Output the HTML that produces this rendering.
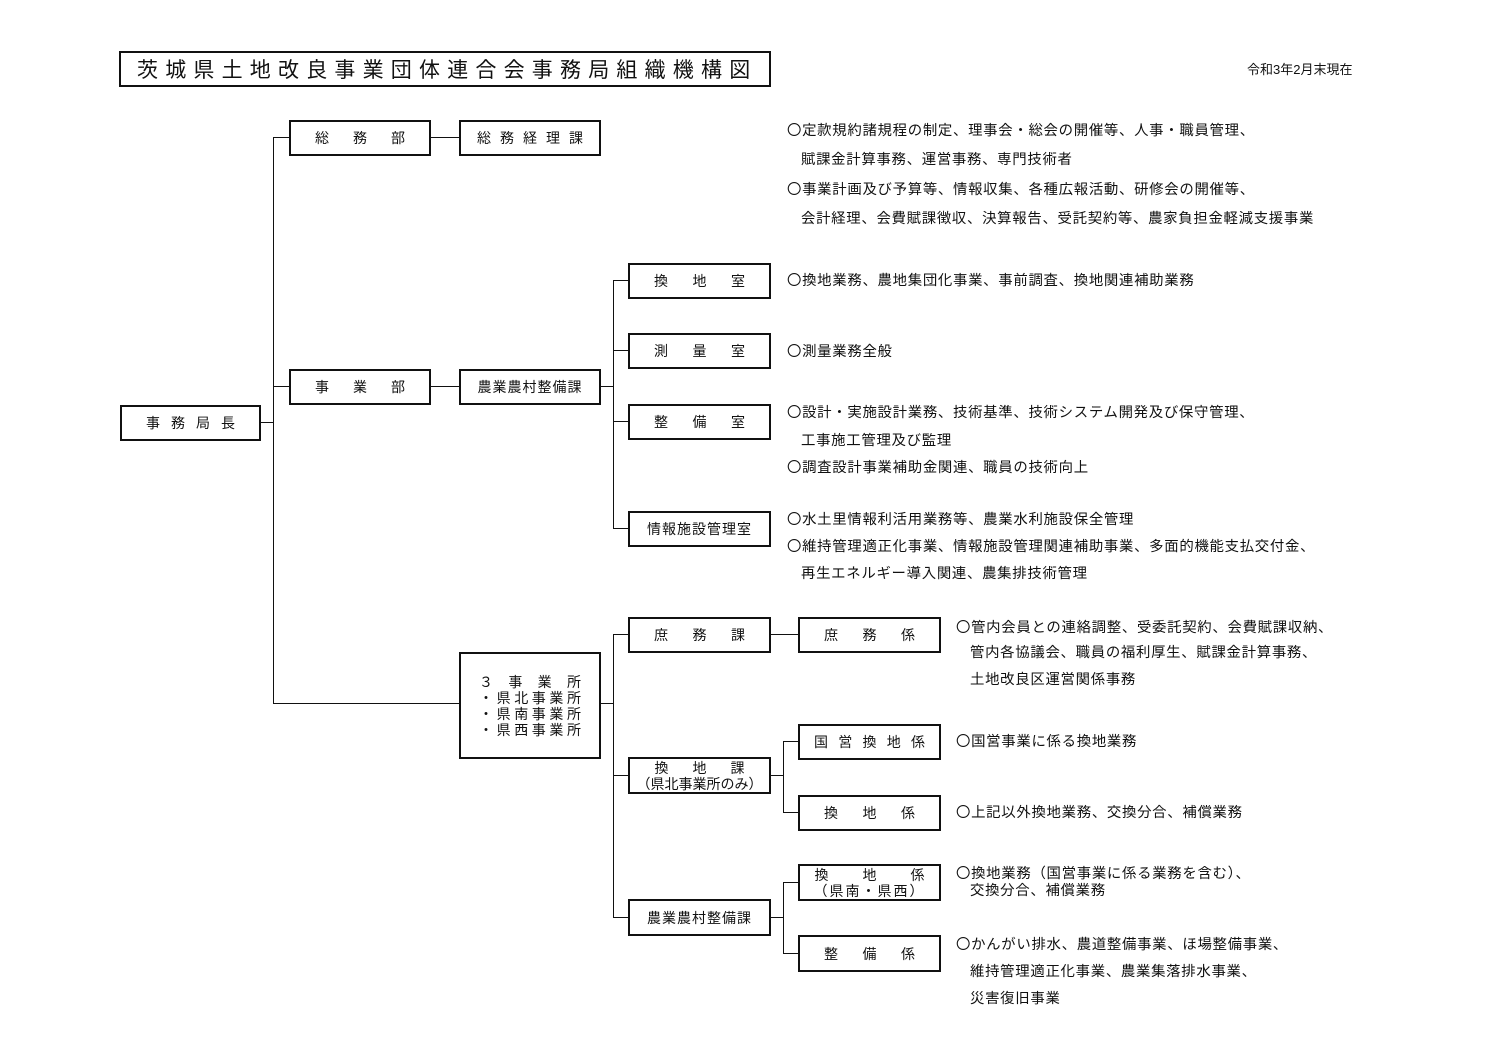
<!DOCTYPE html>
<html><head><meta charset="utf-8"><style>
body{margin:0;background:#fff;width:1497px;height:1058px;position:relative;overflow:hidden;font-family:"Liberation Sans","Noto Sans CJK JP",sans-serif;color:#111}
.b{position:absolute;border:2px solid #111;box-sizing:border-box;background:#fff;font-size:14px;display:flex;align-items:center;justify-content:space-between;padding:0 24px;white-space:nowrap}
.c{justify-content:center}
.h{position:absolute;height:0;border-top:1.5px solid #111}
.v{position:absolute;width:0;border-left:1.5px solid #111}
.t{position:absolute;font-size:14.4px;white-space:nowrap;line-height:16px;font-family:"Noto Sans CJK JP",sans-serif;letter-spacing:0.7px}
.col{flex-direction:column;justify-content:center;line-height:16px}
</style></head><body>
<div class="b c" style="left:119px;top:51px;width:652px;height:36px;font-size:21px;letter-spacing:7.2px;justify-content:flex-start;padding-left:16px">茨城県土地改良事業団体連合会事務局組織機構図</div>
<div class="t" style="left:1247px;top:62px;font-size:13px;letter-spacing:0;font-family:'Liberation Sans','Noto Sans CJK JP',sans-serif">令和3年2月末現在</div>

<!-- lines -->
<div class="h" style="left:260px;top:422px;width:14px"></div>
<div class="v" style="left:273px;top:137px;height:567px"></div>
<div class="h" style="left:273px;top:137px;width:16px"></div>
<div class="h" style="left:273px;top:386px;width:16px"></div>
<div class="h" style="left:273px;top:703px;width:186px"></div>
<div class="h" style="left:430px;top:137px;width:29px"></div>
<div class="h" style="left:430px;top:386px;width:29px"></div>
<div class="h" style="left:600px;top:386px;width:14px"></div>
<div class="v" style="left:613px;top:280px;height:248px"></div>
<div class="h" style="left:613px;top:280px;width:15px"></div>
<div class="h" style="left:613px;top:350px;width:15px"></div>
<div class="h" style="left:613px;top:421px;width:15px"></div>
<div class="h" style="left:613px;top:528px;width:15px"></div>
<div class="h" style="left:600px;top:703px;width:14px"></div>
<div class="v" style="left:613px;top:634px;height:283px"></div>
<div class="h" style="left:613px;top:634px;width:15px"></div>
<div class="h" style="left:613px;top:775px;width:15px"></div>
<div class="h" style="left:613px;top:917px;width:15px"></div>
<div class="h" style="left:770px;top:634px;width:28px"></div>
<div class="h" style="left:770px;top:775px;width:14px"></div>
<div class="v" style="left:783px;top:741px;height:71px"></div>
<div class="h" style="left:783px;top:741px;width:15px"></div>
<div class="h" style="left:783px;top:812px;width:15px"></div>
<div class="h" style="left:770px;top:917px;width:14px"></div>
<div class="v" style="left:783px;top:882px;height:71px"></div>
<div class="h" style="left:783px;top:882px;width:15px"></div>
<div class="h" style="left:783px;top:953px;width:15px"></div>

<!-- boxes -->
<div class="b" style="left:120px;top:405px;width:141px;height:36px"><span>事</span><span>務</span><span>局</span><span>長</span></div>
<div class="b" style="left:289px;top:120px;width:142px;height:36px"><span>総</span><span>務</span><span>部</span></div>
<div class="b" style="left:459px;top:120px;width:142px;height:36px;padding:0 16px"><span>総</span><span>務</span><span>経</span><span>理</span><span>課</span></div>
<div class="b" style="left:289px;top:369px;width:142px;height:36px"><span>事</span><span>業</span><span>部</span></div>
<div class="b c" style="left:459px;top:369px;width:142px;height:36px;letter-spacing:1px">農業農村整備課</div>
<div class="b" style="left:628px;top:263px;width:143px;height:36px"><span>換</span><span>地</span><span>室</span></div>
<div class="b" style="left:628px;top:333px;width:143px;height:36px"><span>測</span><span>量</span><span>室</span></div>
<div class="b" style="left:628px;top:404px;width:143px;height:36px"><span>整</span><span>備</span><span>室</span></div>
<div class="b c" style="left:628px;top:511px;width:143px;height:36px;letter-spacing:1px">情報施設管理室</div>
<div class="b col" style="left:459px;top:652px;width:142px;height:107px;padding:0 18px;align-items:stretch">
<div style="display:flex;justify-content:space-between"><span>３</span><span>事</span><span>業</span><span>所</span></div>
<div style="display:flex;justify-content:space-between"><span>・</span><span>県</span><span>北</span><span>事</span><span>業</span><span>所</span></div>
<div style="display:flex;justify-content:space-between"><span>・</span><span>県</span><span>南</span><span>事</span><span>業</span><span>所</span></div>
<div style="display:flex;justify-content:space-between"><span>・</span><span>県</span><span>西</span><span>事</span><span>業</span><span>所</span></div></div>
<div class="b" style="left:628px;top:617px;width:143px;height:36px"><span>庶</span><span>務</span><span>課</span></div>
<div class="b col" style="left:628px;top:757px;width:143px;height:37px;padding:0 12px"><div style="width:90px;display:flex;justify-content:space-between"><span>換</span><span>地</span><span>課</span></div><div>（県北事業所のみ）</div></div>
<div class="b c" style="left:628px;top:899px;width:143px;height:37px;letter-spacing:1px">農業農村整備課</div>
<div class="b" style="left:798px;top:617px;width:143px;height:36px"><span>庶</span><span>務</span><span>係</span></div>
<div class="b" style="left:798px;top:724px;width:143px;height:36px;padding:0 14px"><span>国</span><span>営</span><span>換</span><span>地</span><span>係</span></div>
<div class="b" style="left:798px;top:795px;width:143px;height:36px"><span>換</span><span>地</span><span>係</span></div>
<div class="b col" style="left:798px;top:864px;width:143px;height:37px;padding:0 14px"><div style="width:110px;display:flex;justify-content:space-between"><span>換</span><span>地</span><span>係</span></div><div style="letter-spacing:2px">（県南・県西）</div></div>
<div class="b" style="left:798px;top:935px;width:143px;height:37px"><span>整</span><span>備</span><span>係</span></div>

<!-- texts -->
<div class="t" style="left:787px;top:122px">〇定款規約諸規程の制定、理事会・総会の開催等、人事・職員管理、</div>
<div class="t" style="left:801px;top:151px">賦課金計算事務、運営事務、専門技術者</div>
<div class="t" style="left:787px;top:181px">〇事業計画及び予算等、情報収集、各種広報活動、研修会の開催等、</div>
<div class="t" style="left:801px;top:210px">会計経理、会費賦課徴収、決算報告、受託契約等、農家負担金軽減支援事業</div>
<div class="t" style="left:787px;top:272px">〇換地業務、農地集団化事業、事前調査、換地関連補助業務</div>
<div class="t" style="left:787px;top:343px">〇測量業務全般</div>
<div class="t" style="left:787px;top:404px">〇設計・実施設計業務、技術基準、技術システム開発及び保守管理、</div>
<div class="t" style="left:801px;top:432px">工事施工管理及び監理</div>
<div class="t" style="left:787px;top:459px">〇調査設計事業補助金関連、職員の技術向上</div>
<div class="t" style="left:787px;top:511px">〇水土里情報利活用業務等、農業水利施設保全管理</div>
<div class="t" style="left:787px;top:538px">〇維持管理適正化事業、情報施設管理関連補助事業、多面的機能支払交付金、</div>
<div class="t" style="left:801px;top:565px">再生エネルギー導入関連、農集排技術管理</div>
<div class="t" style="left:956px;top:619px">〇管内会員との連絡調整、受委託契約、会費賦課収納、</div>
<div class="t" style="left:970px;top:644px">管内各協議会、職員の福利厚生、賦課金計算事務、</div>
<div class="t" style="left:970px;top:671px">土地改良区運営関係事務</div>
<div class="t" style="left:956px;top:733px">〇国営事業に係る換地業務</div>
<div class="t" style="left:956px;top:804px">〇上記以外換地業務、交換分合、補償業務</div>
<div class="t" style="left:956px;top:865px">〇換地業務（国営事業に係る業務を含む）、</div>
<div class="t" style="left:970px;top:882px">交換分合、補償業務</div>
<div class="t" style="left:956px;top:936px">〇かんがい排水、農道整備事業、ほ場整備事業、</div>
<div class="t" style="left:970px;top:963px">維持管理適正化事業、農業集落排水事業、</div>
<div class="t" style="left:970px;top:990px">災害復旧事業</div>
</body></html>
